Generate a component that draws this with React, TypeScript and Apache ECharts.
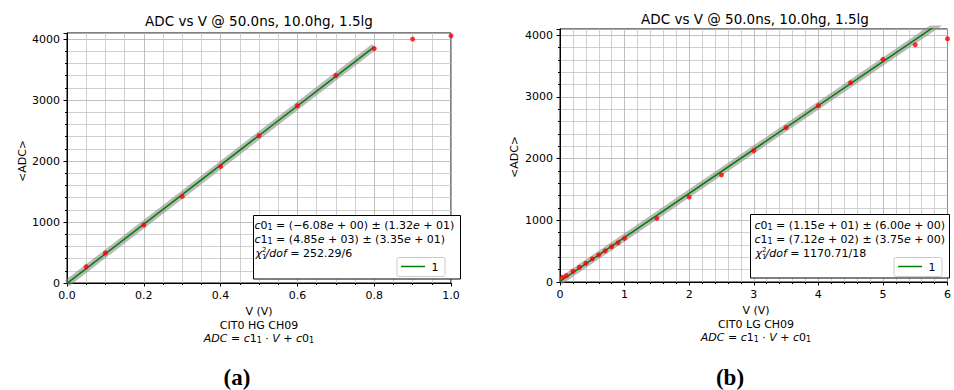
import React, { useEffect, useRef } from "react";
import * as echarts from "echarts";

// ---- data ----
const titleText = "ADC vs V @ 50.0ns, 10.0hg, 1.5lg";

const hgV = [0.05, 0.1, 0.2, 0.3, 0.4, 0.5, 0.6, 0.7, 0.8, 0.9, 1.0];
const hgADC = [267, 492, 951, 1420, 1912, 2415, 2907, 3403, 3846, 4000, 4054];
const hgFit = { c0: -6.08, c1: 4850 };
const hgFitRange = [0, 0.8];

const lgV = [0.04, 0.1, 0.2, 0.3, 0.4, 0.5, 0.6, 0.7, 0.8, 0.9, 1.0, 1.5, 2.0, 2.5, 3.0, 3.5, 4.0, 4.5, 5.0, 5.5, 6.0];
const lgADC = [76, 103, 174, 239, 304, 375, 440, 505, 571, 636, 707, 1030, 1375, 1736, 2129, 2502, 2858, 3230, 3608, 3845, 3942];
const lgFit = { c0: 11.5, c1: 712 };
const lgFitRange = [0, 6];

const hgTicksX = { min: 0, max: 1.0, interval: 0.2, minor: 4 };
const lgTicksX = { min: 0, max: 6, interval: 1, minor: 5 };
const yTicks = { min: 0, max: 4100, interval: 1000, minor: 5 };

const hgLines = [
  "{i|c}0{s|1} = (−6.08{i|e} + 00) ± (1.32{i|e} + 01)",
  "{i|c}1{s|1} = (4.85{i|e} + 03) ± (3.35{i|e} + 01)",
];
const hgChi = "= 252.29/6";
const lgLines = [
  "{i|c}0{s|1} = (1.15{i|e} + 01) ± (6.00{i|e} + 00)",
  "{i|c}1{s|1} = (7.12{i|e} + 02) ± (3.75{i|e} + 00)",
];
const lgChi = "= 1170.71/18";

const F = "DejaVu Sans";

function fitLine(fit: { c0: number; c1: number }, range: number[]) {
  return range.map((x) => [x, fit.c0 + fit.c1 * x]);
}

const rich = {
  i: { fontStyle: "italic", fontFamily: F, fontSize: 11, fill: "#000" },
  s: { fontSize: 8, fontFamily: F, fill: "#000", verticalAlign: "bottom", padding: [4, 0, 0, 0] },
};

function txt(x: number, y: number, text: string, extra: any = {}) {
  return {
    type: "text",
    x,
    y,
    z: 100,
    style: {
      text,
      fontFamily: F,
      fontSize: 11,
      fill: "#000",
      align: "center",
      verticalAlign: "middle",
      textAlign: "center",
      textVerticalAlign: "middle",
      rich,
      ...extra,
    },
  };
}

function legendBox(bx: number, by: number, bw: number, bh: number, lines: string[], chi: string, lx: number, ix: number, iy: number) {
  const els: any[] = [
    { type: "rect", z: 90, shape: { x: bx, y: by, width: bw, height: bh }, style: { fill: "#fff", stroke: "#000", lineWidth: 1 } },
    txt(lx, 225.5, lines[0], { align: "left", textAlign: "left" }),
    txt(lx, 239.5, lines[1], { align: "left", textAlign: "left" }),
    txt(lx + 1, 253.5, "{i|χ}", { align: "left", textAlign: "left" }),
    txt(lx + 7.5, 250, "2", { align: "left", textAlign: "left", fontSize: 7 }),
    txt(lx + 7.5, 257, "1", { align: "left", textAlign: "left", fontSize: 7 }),
    txt(lx + 11, 253.5, "{i|/dof} " + chi, { align: "left", textAlign: "left" }),
    { type: "rect", z: 95, shape: { x: ix, y: iy, width: 48, height: 19, r: 2 }, style: { fill: "#fff", stroke: "#cccccc", lineWidth: 1 } },
    { type: "line", z: 96, shape: { x1: ix + 4, y1: iy + 9, x2: ix + 28, y2: iy + 9 }, style: { stroke: "#008000", lineWidth: 1.5 } },
    txt(ix + 38, iy + 9.5, "1"),
  ];
  return els;
}

export default function App() {
  const ref = useRef<HTMLDivElement>(null);
  useEffect(() => {
    if (!ref.current) return;
    const chart = echarts.init(ref.current, null, { renderer: "svg" });

    const mkX = (gi: number, t: any, fmt: (v: number) => string) => ({
      type: "value",
      gridIndex: gi,
      min: t.min,
      max: t.max,
      interval: t.interval,
      axisLine: { show: true, onZero: false, lineStyle: { color: "#000", width: 1 } },
      axisTick: { show: true, inside: false, length: 3.5, lineStyle: { color: "#000" } },
      minorTick: { show: true, splitNumber: t.minor, length: 2, lineStyle: { color: "#000" } },
      axisLabel: { color: "#000", fontFamily: F, fontSize: 11, margin: 7, formatter: fmt },
      splitLine: { show: true, lineStyle: { color: "#b0b0b0", width: 0.8 } },
      minorSplitLine: { show: true, lineStyle: { color: "#c4c4c4", width: 0.8 } },
    });
    const mkY = (gi: number) => ({
      type: "value",
      gridIndex: gi,
      min: yTicks.min,
      max: yTicks.max,
      interval: yTicks.interval,
      axisLine: { show: true, onZero: false, lineStyle: { color: "#000", width: 1 } },
      axisTick: { show: true, inside: false, length: 3.5, lineStyle: { color: "#000" } },
      minorTick: { show: true, splitNumber: yTicks.minor, length: 2, lineStyle: { color: "#000" } },
      axisLabel: {
        color: "#000",
        fontFamily: F,
        fontSize: 11,
        margin: 7,
        showMaxLabel: false,
        formatter: (v: number) => (v % yTicks.interval === 0 ? String(v) : ""),
      },
      splitLine: { show: true, lineStyle: { color: "#b0b0b0", width: 0.8 } },
      minorSplitLine: { show: true, lineStyle: { color: "#c4c4c4", width: 0.8 } },
    });

    const band = (xi: number, data: number[][]) => ({
      type: "line",
      xAxisIndex: xi,
      yAxisIndex: xi,
      data,
      showSymbol: false,
      clip: true,
      lineStyle: { color: "rgba(140,140,140,0.6)", width: 7 },
      z: 3,
    });
    const green = (xi: number, data: number[][]) => ({
      type: "line",
      xAxisIndex: xi,
      yAxisIndex: xi,
      data,
      showSymbol: false,
      clip: true,
      lineStyle: { color: "#007f00", width: 1.5 },
      z: 4,
    });
    const pts = (xi: number, xs: number[], ys: number[]) => ({
      type: "scatter",
      xAxisIndex: xi,
      yAxisIndex: xi,
      data: xs.map((x, k) => [x, ys[k]]),
      symbolSize: 5,
      itemStyle: { color: "#ff0000" },
      clip: false,
      z: 5,
    });

    const hgLine = fitLine(hgFit, hgFitRange);
    const lgLine = fitLine(lgFit, lgFitRange);

    const graphic: any[] = [
      txt(259, 21, titleText, { fontSize: 13.5 }),
      txt(755, 18.5, titleText, { fontSize: 13.5 }),
      { ...txt(22, 161, "<ADC>"), rotation: Math.PI / 2 },
      { ...txt(514, 157, "<ADC>"), rotation: Math.PI / 2 },
      txt(259, 311, "V (V)"),
      txt(259, 325, "CIT0 HG CH09"),
      txt(259, 338.5, "{i|ADC} = {i|c}1{s|1} · {i|V} + {i|c}0{s|1}"),
      txt(756, 310, "V (V)"),
      txt(756, 324, "CIT0 LG CH09"),
      txt(756, 337.5, "{i|ADC} = {i|c}1{s|1} · {i|V} + {i|c}0{s|1}"),
      txt(237, 377, "(a)", { fontFamily: "Liberation Serif", fontWeight: "bold", fontSize: 23 }),
      txt(730, 377, "(b)", { fontFamily: "Liberation Serif", fontWeight: "bold", fontSize: 23 }),
      ...legendBox(253.5, 215.5, 207, 63.5, hgLines, hgChi, 254.5, 397, 257.5),
      ...legendBox(750.5, 214.5, 199, 63.5, lgLines, lgChi, 754.5, 894, 257.5),
    ];

    chart.setOption({
      animation: false,
      backgroundColor: "#fff",
      grid: [
        { left: 67, right: 503, top: 33, bottom: 107, show: true, borderColor: "#000", borderWidth: 1, backgroundColor: "transparent" },
        { left: 560, right: 4, top: 29, bottom: 108, show: true, borderColor: "#000", borderWidth: 1, backgroundColor: "transparent" },
      ],
      xAxis: [mkX(0, hgTicksX, (v: number) => v.toFixed(1)), mkX(1, lgTicksX, (v: number) => String(v))],
      yAxis: [mkY(0), mkY(1)],
      series: [
        band(0, hgLine),
        green(0, hgLine),
        pts(0, hgV, hgADC),
        band(1, lgLine),
        green(1, lgLine),
        pts(1, lgV, lgADC),
      ],
      graphic,
    });
    return () => chart.dispose();
  }, []);
  return <div ref={ref} style={{ width: 954, height: 390, position: "absolute", left: 0, top: 0 }} />;
}
